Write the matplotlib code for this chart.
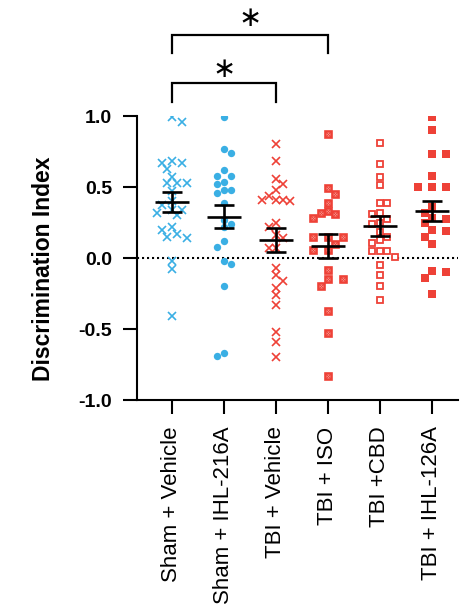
import numpy as np
import matplotlib
matplotlib.use("Agg")
import matplotlib.pyplot as plt

# ---------------- data ----------------
groups = ["Sham + Vehicle", "Sham + IHL-216A", "TBI + Vehicle", "TBI + ISO", "TBI +CBD", "TBI + IHL-126A"]

sham_vehicle = [0.99, 0.96, 0.68, 0.67, 0.67, 0.63, 0.57, 0.53, 0.53, 0.53, 0.47, 0.40, 0.37,
                0.34, 0.34, 0.32, 0.30, 0.22, 0.20, 0.17, 0.15, 0.14, -0.02, -0.08, -0.41]
sham_ihl216a = [0.99, 0.77, 0.74, 0.62, 0.58, 0.58, 0.535, 0.52, 0.48, 0.48, 0.46, 0.39, 0.27,
                0.24, 0.22, 0.12, 0.08, -0.02, -0.04, -0.20, -0.67, -0.69]
tbi_vehicle = [0.80, 0.68, 0.56, 0.52, 0.48, 0.44, 0.41, 0.41, 0.41, 0.40, 0.25, 0.22, 0.16,
               0.14, 0.07, 0.07, -0.07, -0.12, -0.165, -0.21, -0.26, -0.33, -0.52, -0.59, -0.70]
tbi_iso = [0.87, 0.49, 0.45, 0.385, 0.33, 0.315, 0.31, 0.28, 0.15, 0.15, 0.15, 0.10, 0.056,
           0.056, -0.085, -0.148, -0.148, -0.20, -0.37, -0.53, -0.83]
tbi_cbd = [0.81, 0.66, 0.57, 0.515, 0.385, 0.385, 0.32, 0.31, 0.275, 0.25, 0.237, 0.18, 0.146,
           0.127, 0.105, 0.052, 0.052, 0.052, 0.01, -0.047, -0.12, -0.197, -0.293]
tbi_ihl126a = [0.99, 0.90, 0.735, 0.73, 0.58, 0.50, 0.50, 0.50, 0.36, 0.32, 0.285, 0.275,
               0.245, 0.19, 0.195, 0.145, 0.10, -0.09, -0.10, -0.14, -0.25]

means = [0.394, 0.291, 0.127, 0.085, 0.228, 0.331]
sems = [0.069, 0.083, 0.086, 0.084, 0.070, 0.070]

yticks = [-1.0, -0.5, 0.0, 0.5, 1.0]
ytick_labels = ["-1.0", "-0.5", "0.0", "0.5", "1.0"]

# significance brackets: (group a, group b, label)
comparisons = [(0, 2, "*"), (0, 3, "*")]

all_data = [sham_vehicle, sham_ihl216a, tbi_vehicle, tbi_iso, tbi_cbd, tbi_ihl126a]

# ---------------- style ----------------
BLUE = "#3AAFE4"
RED = "#EE4137"

fig = plt.figure(figsize=(4.62, 6.04), dpi=100)
ax = fig.add_axes([0.2965, 0.3377, 0.6948, 0.4702])

ax.set_xlim(-0.673, 5.5)
ax.set_ylim(-1.0, 1.0)

# pixel scale helpers for the swarm layout
px_per_x = 52.0
px_per_y = 142.0


def swarm(vals, step, dist):
    vals = np.asarray(vals, dtype=float)
    order = np.argsort(-vals, kind="stable")
    placed = []
    offs = np.zeros(len(vals))
    sign = 1
    for i in order:
        y = vals[i] * px_per_y
        cands = [0.0]
        for k in range(1, 15):
            cands += [sign * k * step, -sign * k * step]
        chosen = cands[-1]
        for c in cands:
            if all((c - px) ** 2 + (y - py) ** 2 >= dist ** 2 for px, py in placed):
                chosen = c
                break
        if chosen != 0:
            sign = -sign
        placed.append((chosen, y))
        offs[i] = chosen / px_per_x
    return offs

styles = [
    dict(marker="x", color=BLUE, ms=6.0, mew=1.2, mfc=BLUE, step=5, dist=7.5),
    dict(marker="o", color=BLUE, ms=5.3, mew=0, mfc=BLUE, step=7, dist=7),
    dict(marker="x", color=RED, ms=6.0, mew=1.2, mfc=RED, step=7, dist=7),
    dict(marker="s", color=RED, ms=4.4, mew=1.9, mfc="white", step=7.3, dist=7.5),
    dict(marker="s", color=RED, ms=4.6, mew=1.3, mfc="white", step=7.5, dist=7.5),
    dict(marker="s", color=RED, ms=5.5, mew=0, mfc=RED, step=7, dist=8.5),
]

for gi, (vals, st) in enumerate(zip(all_data, styles)):
    offs = swarm(vals, st["step"], st["dist"])
    xs = gi + offs
    ax.plot(xs, vals, linestyle="none", marker=st["marker"], ms=st["ms"], mew=st["mew"],
            mec=st["color"], mfc=st["mfc"], zorder=3)
    if gi == 3:
        ax.plot(xs, vals, linestyle="none", marker="x", ms=2.4, mew=0.8,
                mec=RED, zorder=3.1)

xpos = np.arange(len(groups))
ax.errorbar(xpos, means, yerr=sems, fmt="none", ecolor="black", elinewidth=1.9,
            capsize=7.2, capthick=1.9, zorder=5)
ax.hlines(means, xpos - 0.33, xpos + 0.33, colors="black", linewidth=1.9, zorder=5)

ax.axhline(0, color="black", linestyle=(0, (1, 1.4)), linewidth=1.5, zorder=1)

# axes styling
for s in ["top", "right"]:
    ax.spines[s].set_visible(False)
for s in ["left", "bottom"]:
    ax.spines[s].set_linewidth(1.5)

ax.set_yticks(yticks)
ax.set_yticklabels(ytick_labels, fontfamily="Liberation Sans", fontweight="bold", fontsize=14)
ax.set_xticks(xpos)
ax.set_xticklabels(groups, rotation=90, fontfamily="Liberation Sans", fontsize=16)
ax.tick_params(axis="both", direction="out", length=10, width=1.5)
ax.tick_params(axis="y", pad=8)
ax.tick_params(axis="x", pad=9)

ax.set_ylabel("Discrimination Index", fontfamily="Liberation Sans", fontweight="bold",
              fontsize=16.5, va="center")
ax.yaxis.set_label_coords(-0.29, 0.461)

# significance brackets
levels = [(1.232, 1.099, 1.33), (1.573, 1.446, 1.69)]
for (a, b, lab), (ytop, yend, ystar) in zip(comparisons, levels):
    ax.plot([a, a, b, b], [yend, ytop, ytop, yend], color="black", linewidth=1.6,
            clip_on=False, solid_joinstyle="miter")
    ax.text((a + b) / 2, ystar, "\u2217", ha="center", va="center", fontsize=20,
            fontfamily="DejaVu Sans", clip_on=False)

fig.savefig("out.png", dpi=100)
